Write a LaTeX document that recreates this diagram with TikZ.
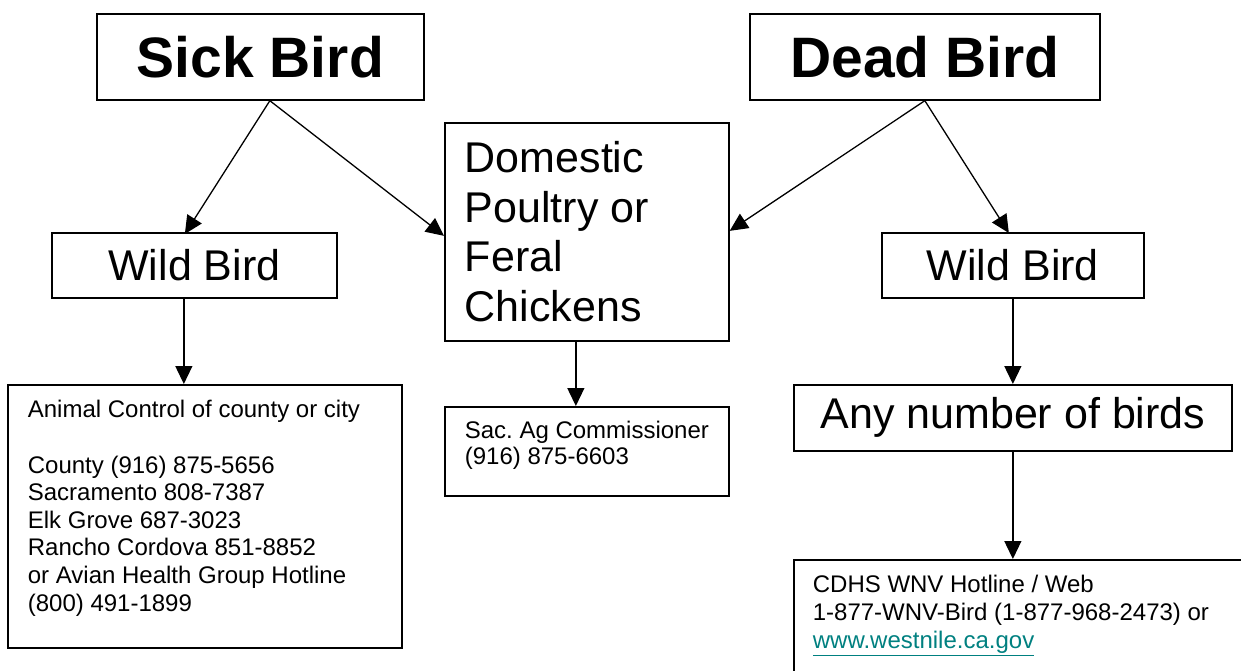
\documentclass[tikz,border=0pt]{standalone}
\usepackage{fontspec}
\setmainfont{Liberation Sans}
\usetikzlibrary{arrows.meta,calc}
\definecolor{linkteal}{RGB}{0,128,128}
\frenchspacing
\tikzset{
  boxnode/.style={draw, line width=1.7pt, inner sep=0pt, anchor=north west},
  titlefont/.style={font=\fontsize{57}{66}\selectfont\bfseries},
  bigfont/.style={font=\fontsize{43}{49.5}\selectfont},
  conn/.style={line width=1.3pt, -{Triangle[length=18pt,width=17pt]}},
}
\begin{document}
\begin{tikzpicture}[x=1pt,y=-1pt]
\useasboundingbox (0,0) rectangle (1241,671);
\clip (0,0) rectangle (1241,671);
\node[boxnode, titlefont, minimum width=327pt, minimum height=86pt] (sick) at (96,13) {Sick Bird};
\node[boxnode, titlefont, minimum width=350pt, minimum height=86pt] (dead) at (749,13) {Dead Bird};
\node[boxnode] (dom) at (444,122) {\begin{minipage}[t][218pt][t]{284pt}\raggedright\leftskip=20pt\fontsize{43}{49.5}\selectfont\rule{0pt}{50pt}Domestic\\Poultry or\\Feral\\Chickens\end{minipage}};
\node[boxnode, bigfont, minimum width=285pt, minimum height=65pt] (wb1) at (51,232) {Wild Bird};
\node[boxnode, bigfont, minimum width=262pt, minimum height=65pt] (wb2) at (881,232) {Wild Bird};
\node[boxnode, bigfont, minimum width=438pt, minimum height=66pt] (any) at (793,384) {Any number of birds};
\node[boxnode] (ac) at (7,384) {\begin{minipage}[t][263pt][t]{394pt}\raggedright\leftskip=20pt\fontsize{24}{27.6}\selectfont\rule{0pt}{33pt}Animal Control of county or city\\[27.6pt]County (916) 875-5656\\Sacramento 808-7387\\Elk Grove 687-3023\\Rancho Cordova 851-8852\\or Avian Health Group Hotline\\(800) 491-1899\end{minipage}};
\node[boxnode] (sac) at (444,406) {\begin{minipage}[t][89pt][t]{284pt}\raggedright\leftskip=20pt\fontsize{24}{26}\selectfont\rule{0pt}{32pt}Sac. Ag Commissioner\\(916) 875-6603\end{minipage}};
\node[boxnode] (cdhs) at (793,559) {\begin{minipage}[t][160pt][t]{500pt}\raggedright\leftskip=19pt\fontsize{24}{28}\selectfont\rule{0pt}{33pt}CDHS WNV Hotline / Web\\1-877-WNV-Bird (1-877-968-2473) or\\{\color{linkteal}\underline{www.westnile.ca.gov}}\end{minipage}};
\draw[conn] ([xshift=9.5pt]sick.south) -- ([xshift=-9.5pt,yshift=-2pt]wb1.north);
\draw[conn] ([xshift=9.5pt]sick.south) -- ([yshift=-4pt]dom.west);
\draw[conn] (dead.south) -- ([yshift=1pt]dom.east);
\draw[conn] (dead.south) -- ([xshift=-4pt,yshift=-1pt]wb2.north);
\draw[conn] ([xshift=-10.5pt]wb1.south) -- ([xshift=-10.5pt]wb1.south |- ac.north);
\draw[conn] ([xshift=-11pt]dom.south) -- ([xshift=-11pt]dom.south |- sac.north);
\draw[conn] (wb2.south) -- (wb2.south |- any.north);
\draw[conn] (any.south) -- (any.south |- cdhs.north);
\end{tikzpicture}
\end{document}
